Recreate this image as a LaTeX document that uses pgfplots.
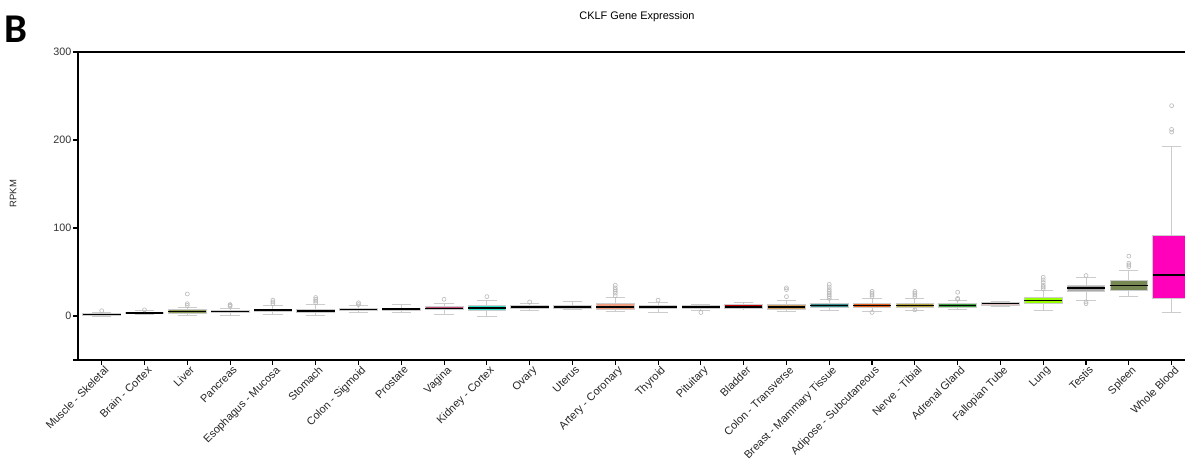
\documentclass[border=0pt]{standalone}
\usepackage{pgfplots}
\pgfplotsset{compat=1.18}
\usepgfplotslibrary{statistics}
\usepackage{fontspec}
\setmainfont{Liberation Sans}
\newfontfamily\bfont{Carlito}
\definecolor{c0}{HTML}{9A9AB0}
\definecolor{c1}{HTML}{A0A0A0}
\definecolor{c2}{HTML}{8A9A55}
\definecolor{c3}{HTML}{7A6A55}
\definecolor{c4}{HTML}{5A3A2A}
\definecolor{c5}{HTML}{9A8A60}
\definecolor{c6}{HTML}{6A5A40}
\definecolor{c7}{HTML}{B0B0B0}
\definecolor{c8}{HTML}{C04A7A}
\definecolor{c9}{HTML}{30E0C8}
\definecolor{c10}{HTML}{8A5A8A}
\definecolor{c11}{HTML}{A050A0}
\definecolor{c12}{HTML}{F0A080}
\definecolor{c13}{HTML}{1A4A1A}
\definecolor{c14}{HTML}{A0B8A0}
\definecolor{c15}{HTML}{C00000}
\definecolor{c16}{HTML}{D0A060}
\definecolor{c17}{HTML}{3A8A8A}
\definecolor{c18}{HTML}{E06020}
\definecolor{c19}{HTML}{B0A040}
\definecolor{c20}{HTML}{40A040}
\definecolor{c21}{HTML}{E0C0C0}
\definecolor{c22}{HTML}{99FF00}
\definecolor{c23}{HTML}{AAAAAA}
\definecolor{c24}{HTML}{778855}
\definecolor{c25}{HTML}{FF00BB}
\newcommand{\bx}[8]{%
  \addplot+[boxplot/draw direction=y,
    boxplot prepared={draw position=#1, lower whisker=#2, lower quartile=#3,
      median=#4, upper quartile=#5, upper whisker=#6, box extend=0.88, whisker extend=0.45},
    solid, draw=gray!40, fill=#7, line width=0.8bp,
    boxplot/every whisker/.style={draw=gray!40, line width=1bp},
    boxplot/every median/.style={draw=black, line width=1.6bp},
    mark=o, mark size=2bp, mark options={draw=gray!55, line width=0.6bp, fill=none, solid}]
    table[row sep=\\, y index=0] {#8};}
\begin{document}
\begin{tikzpicture}
\useasboundingbox (0,0) rectangle (1185bp,459bp);
\begin{axis}[
  at={(78bp,99bp)}, anchor=south west,
  scale only axis, width=1109bp, height=308bp,
  xmin=-0.554, xmax=25.36, ymin=-50, ymax=300,
  axis line style={line width=1.3bp, black},
  tick style={line width=1.1bp, black},
  tick align=outside, major tick length=5bp,
  xtick pos=bottom, ytick pos=left,
  ytick={-50,0,100,200,300}, yticklabels={,0,100,200,300},
  xtick={0,...,25},
  xticklabels={Muscle - Skeletal, Brain - Cortex, Liver, Pancreas, Esophagus - Mucosa, Stomach, Colon - Sigmoid, Prostate, Vagina, Kidney - Cortex, Ovary, Uterus, Artery - Coronary, Thyroid, Pituitary, Bladder, Colon - Transverse, Breast - Mammary Tissue, Adipose - Subcutaneous, Nerve - Tibial, Adrenal Gland, Fallopian Tube, Lung, Testis, Spleen, Whole Blood},
  xticklabel style={rotate=45, anchor=north east, inner sep=1.5bp, xshift=3bp, font=\fontsize{11}{13}\selectfont, text=black!85},
  yticklabel style={font=\fontsize{10.8}{13}\selectfont, text=black!80, inner sep=1.5bp},
  /pgf/number format/assume math mode=true,
  ylabel={RPKM},
  ylabel style={at={(axis description cs:-0.0586,0.54)}, anchor=center, font=\fontsize{9.5}{11}\selectfont, text=black!85},
  title={CKLF Gene Expression},
  title style={at={(axis description cs:0.504,1.094)}, anchor=center, font=\fontsize{11}{13}\selectfont},
]
\bx{0}{0}{1}{1.5}{2.5}{4}{c0}{data\\ 6\\}
\bx{1}{2}{3}{3.5}{4.5}{6}{c1}{data\\ 7\\}
\bx{2}{1}{3}{5}{7}{10}{c2}{data\\ 12\\ 14\\ 25\\}
\bx{3}{1}{4}{5}{6}{9}{c3}{data\\ 11\\ 12\\ 13\\}
\bx{4}{2}{5}{6.5}{8}{12}{c4}{data\\ 14\\ 16\\ 18\\}
\bx{5}{1}{4}{6}{8}{13}{c5}{data\\ 15\\ 17\\ 19\\ 21\\}
\bx{6}{4}{6.5}{7.5}{9}{12}{c6}{data\\ 13\\ 15\\}
\bx{7}{4}{6}{8}{9}{13}{c7}{data\\}
\bx{8}{2}{7}{8.5}{10.5}{14}{c8}{data\\ 19\\}
\bx{9}{0}{6}{9}{12}{18}{c9}{data\\ 22\\}
\bx{10}{6}{8.5}{10}{11.5}{14}{c10}{data\\ 16\\}
\bx{11}{7}{9}{10}{12}{16}{c11}{data\\}
\bx{12}{5}{8}{10}{14}{21}{c12}{data\\ 23\\ 26\\ 28\\ 30\\ 32\\ 35\\}
\bx{13}{4}{8.5}{10}{12}{15}{c13}{data\\ 18\\}
\bx{14}{6}{9}{10}{11.5}{13.5}{c14}{data\\ 4\\}
\bx{15}{8}{8.5}{10}{13}{15}{c15}{data\\}
\bx{16}{5}{8}{10.5}{13}{18}{c16}{data\\ 22\\ 30\\ 32\\}
\bx{17}{6}{10}{12}{14}{19}{c17}{data\\ 20\\ 22\\ 24\\ 26\\ 28\\ 30\\ 33\\ 36\\}
\bx{18}{5}{10}{12}{14}{20}{c18}{data\\ 4\\ 22\\ 24\\ 26\\ 28\\}
\bx{19}{6}{10}{12}{14}{20}{c19}{data\\ 7\\ 22\\ 24\\ 26\\ 28\\}
\bx{20}{7}{10}{12}{14}{18}{c20}{data\\ 19\\ 20\\ 27\\}
\bx{21}{11}{12}{14}{16}{17}{c21}{data\\}
\bx{22}{6}{14}{17.5}{21}{29}{c22}{data\\ 31\\ 33\\ 35\\ 38\\ 41\\ 44\\}
\bx{23}{18}{28}{31.5}{35}{44}{c23}{data\\ 14\\ 16\\ 46\\}
\bx{24}{22}{29}{34.5}{40}{52}{c24}{data\\ 56\\ 58\\ 60\\ 68\\}
\bx{25}{4}{20}{46.5}{92}{193}{c25}{data\\ 209\\ 212\\ 239\\}
\end{axis}
\node[anchor=base west, inner sep=0, font=\bfont\bfseries\fontsize{41}{41}\selectfont] at (4bp,416bp) {B};
\end{tikzpicture}
\end{document}
